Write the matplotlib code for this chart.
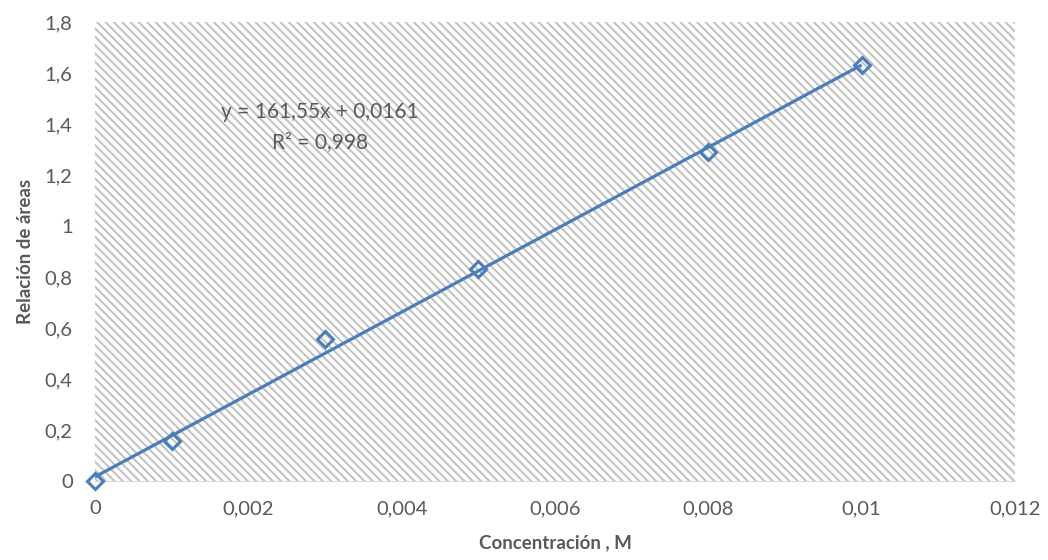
import matplotlib
matplotlib.use("Agg")
import matplotlib.pyplot as plt
from matplotlib.patches import Rectangle
from matplotlib.ticker import FuncFormatter
import numpy as np

# Calibration data
concentracion = [0, 0.001, 0.003, 0.005, 0.008, 0.01]
relacion_areas = [0, 0.155, 0.555, 0.83, 1.29, 1.63]

# Linear trendline coefficients
pendiente = 161.55
intercepto = 0.0161
r2 = 0.998

x_ticks = [0, 0.002, 0.004, 0.006, 0.008, 0.01, 0.012]
y_ticks = [0, 0.2, 0.4, 0.6, 0.8, 1, 1.2, 1.4, 1.6, 1.8]

plt.rcParams['font.family'] = ['Lato', 'DejaVu Sans']
plt.rcParams['hatch.linewidth'] = 1.5

grey_text = '#595959'
blue = '#4a7ebb'

fig = plt.figure(figsize=(10.48, 5.6), dpi=100)
ax = fig.add_axes([0.0906, 0.1411, 0.8779, 0.8196])

# Hatched plot area background
ax.add_patch(Rectangle((0, 0), 1, 1, transform=ax.transAxes, facecolor='white',
                       edgecolor='#c3c3c3', hatch='\\\\\\\\', linewidth=0, zorder=0))

xs = np.array([0, 0.01])
ax.plot(xs, pendiente * xs + intercepto, color=blue, linewidth=2.3, zorder=2,
        solid_capstyle='butt')
ax.plot(concentracion, relacion_areas, linestyle='none', marker='D', markersize=8.5,
        markerfacecolor='none', markeredgecolor=blue, markeredgewidth=2.2, zorder=3,
        clip_on=False)

ax.set_xlim(0, 0.012)
ax.set_ylim(0, 1.8)
ax.set_xticks(x_ticks)
ax.set_yticks(y_ticks)

def coma(v, pos):
    s = ('%.3f' % v).rstrip('0').rstrip('.')
    return s.replace('.', ',')

ax.xaxis.set_major_formatter(FuncFormatter(coma))
ax.yaxis.set_major_formatter(FuncFormatter(coma))
ax.tick_params(axis='both', length=0, labelsize=14.5, labelcolor=grey_text)
ax.tick_params(axis='x', pad=14)
ax.tick_params(axis='y', pad=16)

for side in ['top', 'right', 'left']:
    ax.spines[side].set_visible(False)
ax.spines['bottom'].set_color('#d9d9d9')
ax.spines['bottom'].set_linewidth(0.8)

ax.set_xlabel('Concentración , M', fontsize=13.5, fontweight='bold', color=grey_text,
              labelpad=12)
ax.set_ylabel('Relación de áreas', fontsize=13.5, fontweight='bold', color=grey_text,
              labelpad=8)

ax.text(0.00293, 1.447, 'y = 161,55x + 0,0161', fontsize=15, color=grey_text,
        ha='center', va='center', zorder=4)
ax.text(0.00293, 1.329, 'R² = 0,998', fontsize=15, color=grey_text,
        ha='center', va='center', zorder=4)

fig.savefig('out.png', dpi=100)
